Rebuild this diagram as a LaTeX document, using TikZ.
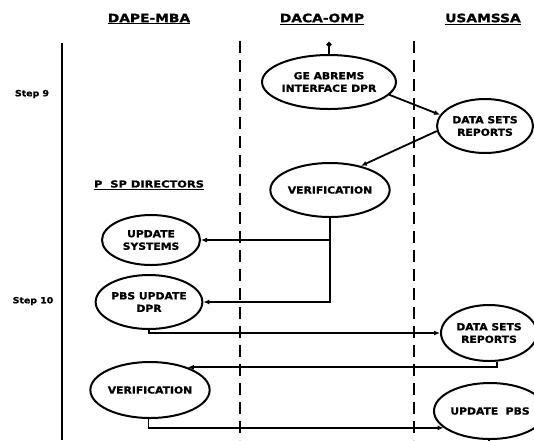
\documentclass[tikz,border=0pt]{standalone}
\usepackage{fontspec}
\setmainfont{DejaVu Sans}
\newfontfamily\lbl[FakeStretch=1.1, BoldFeatures={FakeBold=1.2}]{DejaVu Sans}
\newfontfamily\hdr[FakeStretch=1.2, BoldFeatures={FakeBold=1.2}]{DejaVu Sans}
\usetikzlibrary{shapes.geometric,arrows.meta}

\tikzset{
  bubble/.style={ellipse, draw, line width=2pt, inner sep=0pt, align=center,
    font=\lbl\bfseries\fontsize{9.8}{12.5}\selectfont},
  head/.style={font=\hdr\bfseries\fontsize{11.5}{13}\selectfont},
  steplbl/.style={font=\lbl\bfseries\fontsize{8.5}{10}\selectfont},
  flow/.style={line width=1.8pt, -{Latex[length=6pt,width=5pt]}},
  lane/.style={line width=1.3pt},
  lanedash/.style={line width=1.8pt, dash pattern=on 12pt off 7pt},
}

\begin{document}
\begin{tikzpicture}[x=1pt,y=-1pt]
\useasboundingbox[fill=white] (0,0) rectangle (534,440);

% column headings
\node[head] (hA) at (149,19) {\underline{DAPE-MBA}};
\node[head] (hB) at (322,19) {\underline{DACA-OMP}};
\node[head] (hC) at (483,19) {\underline{USAMSSA}};

% lane separators
\draw[lane] (62,43) -- (62,440);
\draw[lanedash] (240,41) -- (240,440);
\draw[lanedash] (414,41) -- (414,440);

% step labels
\node[steplbl] (s9) at (32,94) {Step 9};
\node[steplbl] (s10) at (33,301) {Step 10};

% sub-heading in the left lane
\node[font=\hdr\bfseries\fontsize{9.5}{11}\selectfont] (psp) at (149,185) {\underline{P\ \ SP DIRECTORS}};

% process bubbles
\node[bubble, minimum width=96pt, minimum height=54pt] (ge) at (329,82) {GE ABREMS\\INTERFACE DPR};
\node[bubble, minimum width=96pt, minimum height=54pt] (dsA) at (485,126) {DATA SETS\\REPORTS};
\node[bubble, minimum width=96pt, minimum height=54pt] (ver1) at (330,190) {VERIFICATION};
\node[bubble, minimum width=98pt, minimum height=50pt] (upsys) at (151,240) {UPDATE\\SYSTEMS};
\node[bubble, minimum width=98pt, minimum height=54pt] (pbs) at (149,302) {PBS UPDATE\\DPR};
\node[bubble, minimum width=96pt, minimum height=56pt] (dsB) at (489,333) {DATA SETS\\REPORTS};
\node[bubble, minimum width=94pt, minimum height=56pt] (ver2) at (150,390) {VERIFICATION};
\node[bubble, minimum width=98pt, minimum height=56pt] (upbs) at (490,411) {UPDATE\ \ PBS};

% free ends of the flows entering and leaving the page
\coordinate (gein) at (329,42);
\coordinate (upout) at (489,446);

% flows
\draw[line width=1.6pt, {Circle[length=5pt]}-] (gein) -- (ge.north);
\draw[flow] (ge.-12) -- (dsA.166);
\draw[flow] (dsA.186) -- (ver1.38);
\draw[flow] (ver1.south) |- (upsys.east);
\draw[flow] (ver1.south) |- (pbs.east);
\draw[flow] (pbs.south) |- (dsB.west);
\draw[flow] (dsB.-75) |- (ver2.31);
\draw[flow] (ver2.-93) |- (upbs.200);
\draw[line width=1.8pt] (upbs.south -| upout) -- (upout);
\end{tikzpicture}
\end{document}
